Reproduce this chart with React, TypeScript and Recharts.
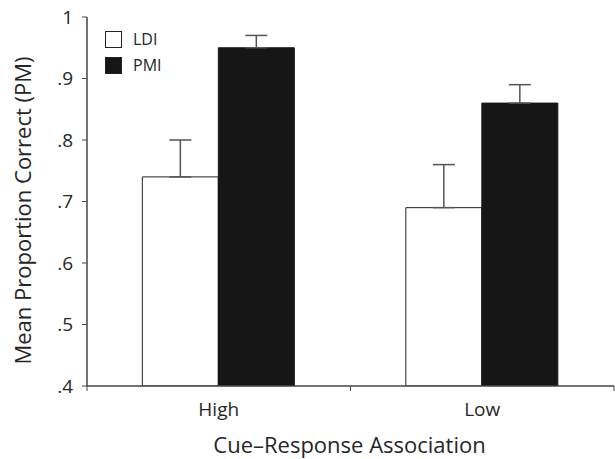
import { BarChart, Bar, XAxis, YAxis, ErrorBar } from 'recharts';

const categories = ['High', 'Low'];
const ldiMeans = [0.74, 0.69];
const ldiErrors = [0.06, 0.07];
const pmiMeans = [0.95, 0.86];
const pmiErrors = [0.02, 0.03];
const yTicks = [0.4, 0.5, 0.6, 0.7, 0.8, 0.9, 1];
const yTickLabels = ['.4', '.5', '.6', '.7', '.8', '.9', '1'];

const data = categories.map((cat, i) => ({
  cat,
  LDI: ldiMeans[i],
  ldiErr: [0, ldiErrors[i]],
  PMI: pmiMeans[i],
  pmiErr: [0, pmiErrors[i]],
}));

const FONT = '"Open Sans", "Noto Sans", sans-serif';
const TEXT = '#262626';
const AXIS = '#444';

const formatY = (v: number) => {
  const idx = yTicks.findIndex((t) => Math.abs(t - v) < 1e-6);
  return idx >= 0 ? yTickLabels[idx] : String(v);
};

// category axis tick: label at band center, tick marks at band edges
const CategoryTick = (props: any) => {
  const { x, y, payload } = props;
  const half = payload.offset || 0;
  return (
    <g>
      <line x1={x - half} x2={x - half} y1={y - 8} y2={y - 3} stroke={AXIS} strokeWidth={1} />
      <line x1={x + half} x2={x + half} y1={y - 8} y2={y - 3} stroke={AXIS} strokeWidth={1} />
      <text x={x} y={y + 22} textAnchor="middle" fill={TEXT} fontSize={19} fontFamily={FONT}>
        {payload.value}
      </text>
    </g>
  );
};

const XTitle = (props: any) => {
  const vb = props.viewBox || { x: 0, y: 0, width: 0, height: 0 };
  return (
    <text
      x={vb.x + vb.width / 2 - 1}
      y={vb.y + 67}
      textAnchor="middle"
      fill={TEXT}
      fontSize={22}
      fontFamily={FONT}
    >
      Cue–Response Association
    </text>
  );
};

const YTitle = (props: any) => {
  const vb = props.viewBox || { x: 0, y: 0, width: 0, height: 0 };
  const cx = 31;
  const cy = vb.y + vb.height / 2 + 9;
  return (
    <text
      x={cx}
      y={cy}
      transform={`rotate(-90, ${cx}, ${cy})`}
      textAnchor="middle"
      fill={TEXT}
      fontSize={22}
      fontFamily={FONT}
    >
      Mean Proportion Correct (PM)
    </text>
  );
};

const legendItems = [
  { name: 'LDI', fill: '#fff' },
  { name: 'PMI', fill: '#161616' },
];

export default function App() {
  return (
    <div style={{ position: 'absolute', left: 0, top: 0, width: 615, height: 459, background: '#fff' }}>
      <BarChart
        width={615}
        height={459}
        data={data}
        margin={{ top: 17, right: 1, left: 0, bottom: 0 }}
        barCategoryGap="21%"
        barGap={0}
      >
        <XAxis
          dataKey="cat"
          height={73}
          axisLine={{ stroke: AXIS, strokeWidth: 1.5 }}
          tickLine={false}
          tick={<CategoryTick />}
          label={{ content: (p: any) => <XTitle {...p} /> }}
        />
        <YAxis
          width={87}
          domain={[0.4, 1]}
          ticks={yTicks}
          tickFormatter={formatY}
          axisLine={{ stroke: AXIS, strokeWidth: 1.5 }}
          tickLine={{ stroke: AXIS }}
          tickSize={5}
          tickMargin={9}
          tick={{ fill: TEXT, fontSize: 19, fontFamily: FONT }}
          allowDataOverflow
          label={{ content: (p: any) => <YTitle {...p} /> }}
        />
        <Bar dataKey="LDI" fill="#fff" stroke="#222" strokeWidth={1} isAnimationActive={false}>
          <ErrorBar dataKey="ldiErr" width={11} stroke="#555" strokeWidth={1.5} />
        </Bar>
        <Bar dataKey="PMI" fill="#161616" stroke="#161616" isAnimationActive={false}>
          <ErrorBar dataKey="pmiErr" width={11} stroke="#555" strokeWidth={1.5} />
        </Bar>
      </BarChart>
      <div
        style={{
          position: 'absolute',
          left: 105,
          top: 26,
          fontFamily: FONT,
          fontSize: 16,
          color: TEXT,
        }}
      >
        {legendItems.map((item) => (
          <div key={item.name} style={{ display: 'flex', alignItems: 'center', height: 26 }}>
            <span
              style={{
                display: 'inline-block',
                width: 15,
                height: 15,
                background: item.fill,
                border: '1px solid #222',
                marginRight: 11,
              }}
            />
            {item.name}
          </div>
        ))}
      </div>
    </div>
  );
}
